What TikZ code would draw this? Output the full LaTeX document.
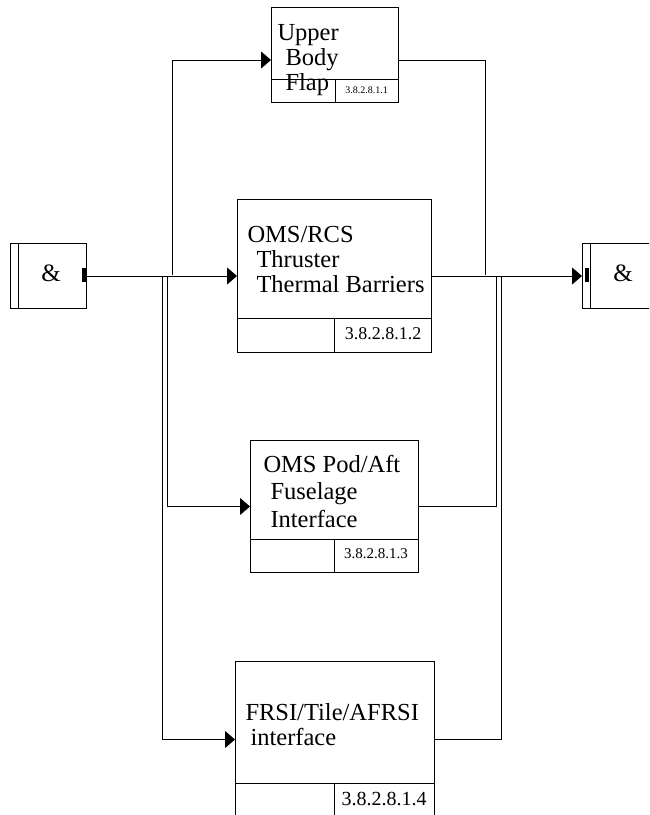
\documentclass[tikz,border=0pt]{standalone}
\usepackage{fontspec}
\setmainfont{Liberation Serif}
\usetikzlibrary{arrows.meta,calc}
\begin{document}
\begin{tikzpicture}[x=1pt,y=-1pt,line width=1pt,
  box/.style={draw,rectangle,inner sep=0pt,anchor=north west},
  lbl/.style={anchor=base west,align=left,inner sep=0pt},
  num/.style={inner sep=0pt},
  arr/.style={-{Triangle[length=10pt,width=17pt]}},
  andsign/.style={inner sep=0pt,font=\fontsize{25}{25}\selectfont}]
\useasboundingbox (0,0) rectangle (649,815);
\clip (0,0) rectangle (649,815);
% boxes
\node[box,minimum width=127pt,minimum height=95pt] (ub) at (271,7) {};
\node[box,minimum width=194pt,minimum height=153pt] (or) at (237,199) {};
\node[box,minimum width=168pt,minimum height=132pt] (op) at (250,440) {};
\node[box,minimum width=199pt,minimum height=156pt] (fr) at (235,661) {};
\node[box,minimum width=76pt,minimum height=65pt] (L) at (10,243) {};
\node[box,minimum width=76pt,minimum height=65pt] (R) at (582,243) {};
% dividers
\draw (ub.west |- 0,79) -- (ub.east |- 0,79);
\draw (335,79) -- (ub.south -| 335,0);
\draw (or.west |- 0,318) -- (or.east |- 0,318);
\draw (334,318) -- (or.south -| 334,0);
\draw (op.west |- 0,539) -- (op.east |- 0,539);
\draw (334,539) -- (op.south -| 334,0);
\draw (fr.west |- 0,783) -- (fr.east |- 0,783);
\draw (334,783) -- (fr.south -| 334,0);
\draw (L.north west -| 18,0) -- (L.south west -| 18,0);
\draw (R.north west -| 590,0) -- (R.south west -| 590,0);
\fill (82,268) rectangle (86,282);
\fill (585,268) rectangle (589,282);
% texts (anchored at the baseline of the last line)
\node[andsign] (La) at (51,273) {\&};
\node[andsign] (Ra) at (623,273) {\&};
\node[lbl,font=\fontsize{24.5}{25}\selectfont] (ubt) at (277,90) {Upper\\\hspace*{8pt}Body\\\hspace*{8pt}Flap};
\node[lbl,font=\fontsize{24.5}{25}\selectfont] (ort) at (247,292) {OMS/RCS\\\hspace*{9pt}Thruster\\\hspace*{9pt}Thermal Barriers};
\node[lbl,font=\fontsize{24.5}{27.5}\selectfont] (opt) at (263,527) {OMS Pod/Aft\\\hspace*{7pt}Fuselage\\\hspace*{7pt}Interface};
\node[lbl,font=\fontsize{24.5}{25}\selectfont] (frt) at (245,745) {FRSI/Tile/AFRSI\\\hspace*{5pt}interface};
\node[num,font=\fontsize{10}{10}\selectfont] (ubn) at (366.5,90.5) {3.8.2.8.1.1};
\node[num,font=\fontsize{18}{18}\selectfont] (orn) at (383,334) {3.8.2.8.1.2};
\node[num,font=\fontsize{15}{15}\selectfont] (opn) at (376,554) {3.8.2.8.1.3};
\node[num,font=\fontsize{20}{20}\selectfont] (frn) at (384,799) {3.8.2.8.1.4};
% junction coordinates
\coordinate (ju) at (172,275);
\coordinate (jo) at (167,277);
\coordinate (jf) at (162,277);
\coordinate (ubi) at (271,60);
\coordinate (ku) at (485,275);
\coordinate (ko) at (496,277);
\coordinate (kf) at (501,277);
% connectors
\draw[arr] (L.east) -- (or.west);
\draw[arr] (ju) |- (ubi);
\draw[arr] (jo) |- (op.west);
\draw[arr] (jf) |- (fr.west);
\draw[arr] (or.east) -- (R.west);
\draw (ub.east |- ubi) -| (ku);
\draw (op.east) -| (ko);
\draw (fr.east) -| (kf);
\end{tikzpicture}
\end{document}
